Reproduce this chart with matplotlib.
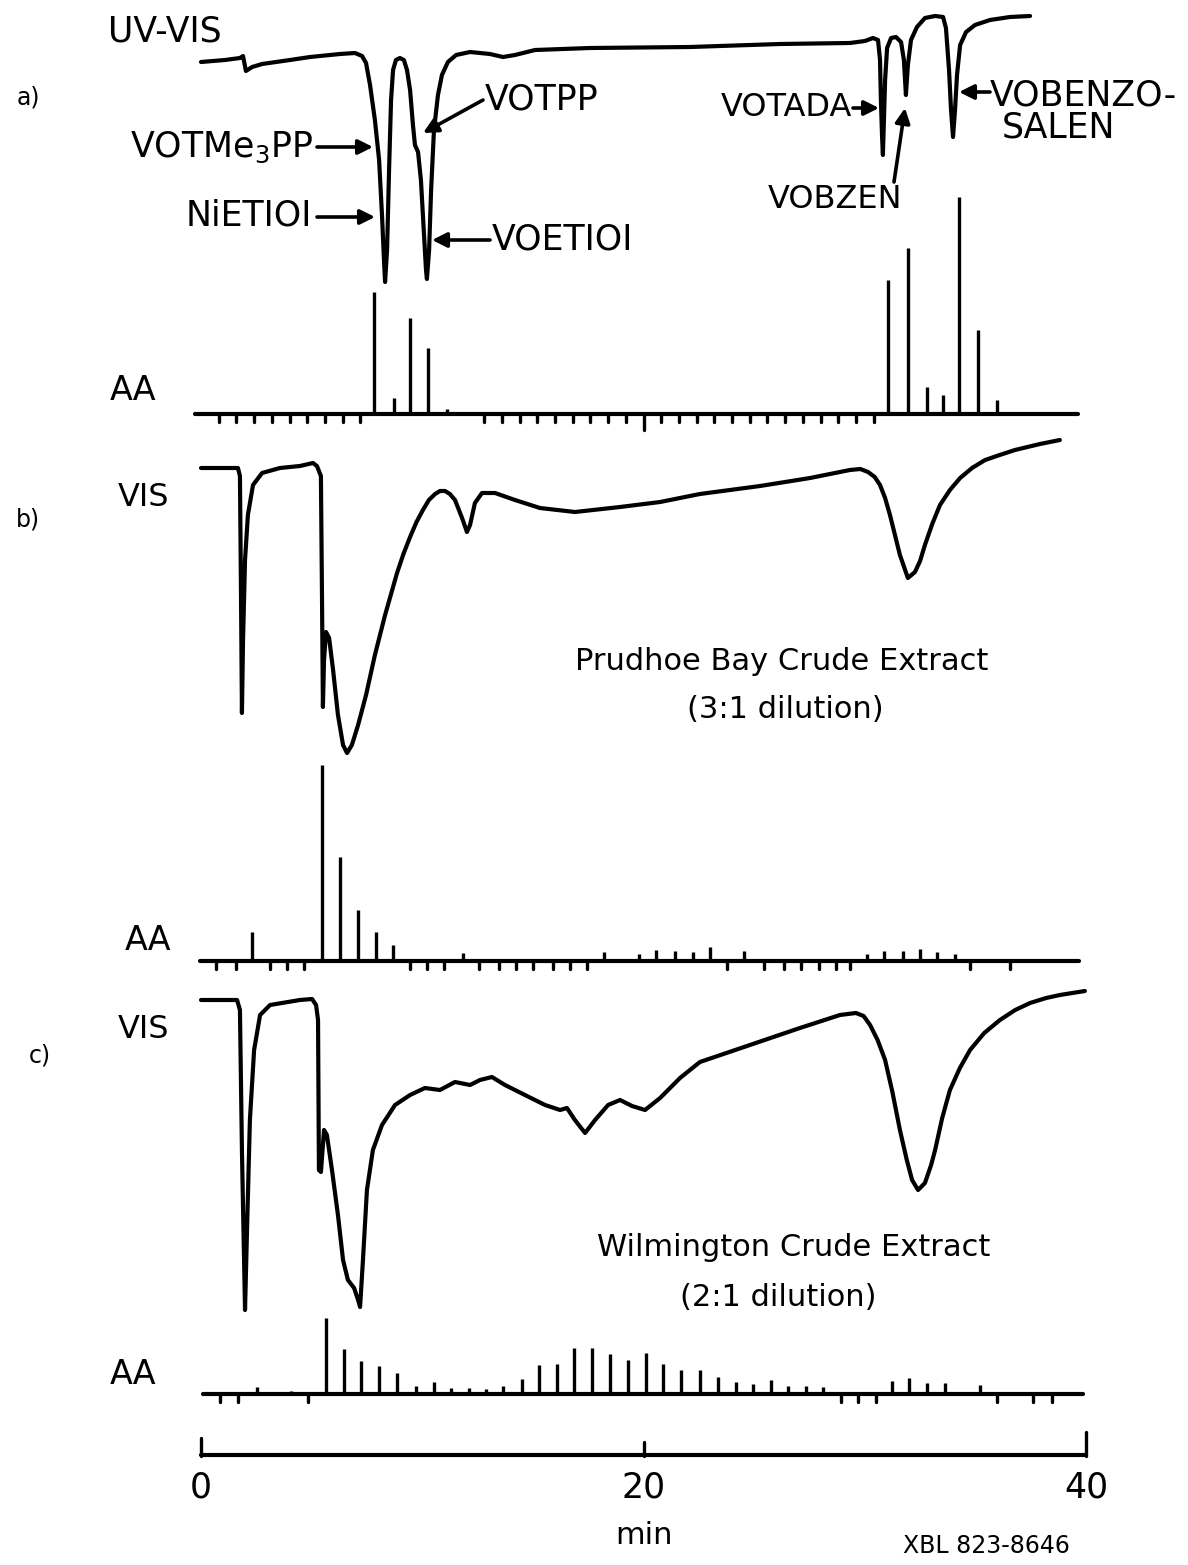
import matplotlib
matplotlib.use("Agg")
import matplotlib.pyplot as plt
import numpy as np

plt.rcParams['font.family'] = ['DejaVu Sans']

# ---------------- data (time in min, detector deflection in arbitrary units) -------------
# a) UV-VIS trace
a_vis_t = [0.0, 1.08, 1.76, 1.90, 2.03, 2.31, 2.76, 4.02, 4.93, 6.28, 6.96, 7.28, 7.46, 7.64,
           7.86, 8.05, 8.18, 8.27, 8.32, 8.41, 8.50, 8.59, 8.68, 8.81, 8.99, 9.17, 9.31, 9.45,
           9.58, 9.67, 9.81, 9.94, 10.08, 10.17, 10.21, 10.31, 10.40, 10.53, 10.71, 10.89,
           11.16, 11.53, 12.16, 13.06, 13.65, 14.19, 15.10, 17.58, 22.10, 26.17, 29.33, 30.01,
           30.37, 30.60, 30.69, 30.73, 30.78, 30.82, 30.92, 31.01, 31.19, 31.41, 31.64, 31.77,
           31.86, 31.95, 32.09, 32.36, 32.72, 33.18, 33.54, 33.67, 33.81, 33.90, 33.99, 34.08,
           34.17, 34.31, 34.58, 34.98, 35.66, 36.56, 37.47]
a_vis_d = [0, 2, 4, 6, -9, -5, -2, 2, 5, 8, 9, 6, -1, -23,
           -58, -98, -153, -198, -220, -188, -108, -38, -8, 2, 4, 2, -8, -28,
           -63, -83, -90, -118, -173, -208, -217, -188, -128, -68, -33, -13,
           0, 7, 10, 8, 5, 7, 12, 14, 15, 18, 19, 21,
           24, 22, 2, -38, -73, -93, -18, 14, 24, 25, 20, 2,
           -33, -3, 22, 35, 44, 46, 45, 34, -8, -48, -75, -48,
           -13, 17, 30, 37, 42, 45, 46]

# a) AA peaks
a_aa_t = [7.82, 8.72, 9.45, 10.26, 11.12, 31.05, 31.95, 32.81, 33.54, 34.26, 35.12, 35.98]
a_aa_h = [122, 16, 96, 66, 5, 134, 166, 27, 19, 217, 84, 14]
a_marks = [0.8, 1.6, 2.4, 3.2, 4.0, 4.8, 5.6, 6.4, 7.2, 12.8, 13.6, 14.4, 15.2, 16.0, 16.8,
           17.6, 18.4, 19.2, 20.0, 20.8, 21.6, 22.4, 23.2, 24.0, 24.8, 25.6, 26.4, 27.2,
           28.0, 28.8, 29.6, 30.4]

# b) VIS trace (Prudhoe Bay)
b_vis_t = [0.0, 1.67, 1.76, 1.81, 1.85, 1.90, 1.99, 2.12, 2.35, 2.76, 3.57, 4.47, 5.06, 5.24,
           5.42, 5.47, 5.51, 5.56, 5.65, 5.79, 5.97, 6.19, 6.42, 6.60, 6.82, 7.10, 7.46, 7.86,
           8.32, 8.86, 9.15, 9.45, 9.74, 10.03, 10.30, 10.58, 10.80, 11.03, 11.25, 11.48, 11.80,
           12.02, 12.16, 12.38, 12.70, 13.29, 14.19, 15.32, 16.90, 18.94, 20.75, 22.55, 25.27,
           27.53, 29.33, 29.80, 30.15, 30.45, 30.69, 30.92, 31.14, 31.59, 31.95, 32.27, 32.50,
           32.72, 33.05, 33.40, 33.85, 34.31, 34.85, 35.44, 36.10, 36.79, 37.92, 38.82]
b_vis_d = [0, 0, -8, -132, -245, -172, -92, -47, -17, -5, 0, 2, 5, 2,
           -8, -132, -239, -192, -164, -170, -202, -247, -277, -285, -277, -257, -227, -187,
           -147, -105, -86, -69, -54, -42, -32, -26, -23, -23, -26, -32, -50,
           -64, -57, -35, -25, -25, -32, -40, -44, -39, -34, -26, -18,
           -10, -2, -1, -4, -9, -17, -30, -47, -87, -110, -104, -93,
           -77, -56, -37, -22, -10, 0, 8, 13, 18, 24, 28]

# b) AA peaks
b_aa_t = [2.31, 5.47, 6.28, 7.10, 7.91, 8.68, 11.84, 18.21, 19.80, 20.56, 21.42, 22.24, 23.01,
          24.54, 30.10, 30.87, 31.73, 32.50, 33.27, 34.08]
b_aa_h = [29, 196, 104, 51, 29, 16, 8, 9, 7, 11, 10, 9, 14, 10, 7, 10, 10, 12, 9, 7]
b_marks = [0.68, 1.58, 3.12, 3.89, 4.66, 9.45, 10.21, 10.98, 12.56, 13.47, 14.24, 15.01, 15.91,
           16.68, 17.45, 23.77, 25.45, 26.35, 27.12, 27.93, 28.70, 29.33, 34.76, 36.56]

# c) VIS trace (Wilmington)
c_vis_t = [0.0, 1.63, 1.76, 1.85, 1.99, 2.08, 2.21, 2.40, 2.67, 3.12, 4.47, 5.02, 5.20, 5.29,
           5.33, 5.42, 5.56, 5.69, 5.92, 6.19, 6.42, 6.64, 6.92, 7.10, 7.19, 7.32, 7.50, 7.77,
           8.18, 8.77, 9.45, 10.12, 10.80, 11.48, 12.16, 12.61, 13.15, 13.74, 14.64, 15.55,
           16.23, 16.54, 16.90, 17.36, 17.81, 18.40, 18.94, 19.48, 20.07, 20.75, 21.65, 22.55,
           24.81, 27.07, 28.88, 29.60, 29.95, 30.24, 30.58, 30.92, 31.25, 31.59, 31.90, 32.14,
           32.41, 32.72, 33.00, 33.18, 33.50, 33.85, 34.30, 34.76, 35.40, 36.11, 36.80, 37.47,
           38.20, 38.82, 39.95]
c_vis_d = [0, 0, -10, -150, -310, -230, -120, -50, -15, -5, 0, 1, -5, -20,
           -170, -172, -130, -135, -170, -215, -260, -280, -288, -300, -307, -260, -190, -150,
           -125, -105, -95, -88, -90, -82, -85, -80, -77, -85, -95, -105,
           -110, -108, -120, -133, -120, -105, -100, -106, -110, -98, -78, -62,
           -45, -28, -15, -13, -16, -25, -40, -60, -92, -130, -160, -180,
           -190, -183, -165, -150, -118, -90, -68, -50, -33, -20, -10, -3,
           2, 5, 9]

# c) AA peaks
c_aa_t = [2.53, 4.07, 5.65, 6.46, 7.23, 8.05, 8.86, 9.72, 10.53, 11.30, 12.11, 12.88, 13.65,
          14.51, 15.28, 16.09, 16.86, 17.67, 18.49, 19.30, 20.11, 20.88, 21.69, 22.55, 23.37,
          24.18, 24.95, 25.76, 26.53, 27.34, 28.11, 31.23, 32.00, 32.81, 33.63, 35.21]
c_aa_h = [7, 3, 76, 45, 33, 28, 21, 8, 12, 6, 6, 5, 8, 15, 29, 30, 46, 46, 40, 34, 41, 30, 24,
          24, 17, 12, 10, 14, 8, 8, 7, 13, 16, 11, 11, 9]
c_marks = [0.86, 1.67, 4.84, 28.93, 29.69, 30.51, 35.98, 37.60, 38.46]

scale_ticks = [0, 20, 40]
scale_labels = ["0", "20", "40"]

# ---------------- layout ----------------
W, H = 1188, 1565
PX_PER_MIN = 22.125
X0 = 201.0  # pixel column of t = 0

fig = plt.figure(figsize=(W / 100, H / 100), dpi=100)
fig.patch.set_facecolor('white')
ax = fig.add_axes([0, 0, 1, 1])
ax.set_xlim(-X0 / PX_PER_MIN, (W - X0) / PX_PER_MIN)
ax.set_ylim(H, 0)
ax.axis('off')

LW_TRACE = 3.0
LW_AA = 2.4
kw = dict(color='black', solid_joinstyle='round', solid_capstyle='round')

def trace(t, d, base):
    ax.plot(t, base - np.asarray(d, float), lw=LW_TRACE, **kw)

def aa(t, h, base, marks, t0, t1, long_marks=()):
    ax.plot([t0, t1], [base, base], lw=3.0, **kw)
    ax.vlines(t, base, base - np.asarray(h, float), color='black', lw=LW_AA)
    for m in marks:
        ln = 16 if m in long_marks else 8
        ax.plot([m, m], [base, base + ln], lw=2.4, **kw)

# panel a
trace(a_vis_t, a_vis_d, 62)
aa(a_aa_t, a_aa_h, 414, a_marks, -0.27, 39.64, long_marks=(20.0,))
# panel b
trace(b_vis_t, b_vis_d, 468)
aa(b_aa_t, b_aa_h, 961, b_marks, -0.05, 39.7)
# panel c
trace(c_vis_t, c_vis_d, 1000)
aa(c_aa_t, c_aa_h, 1394, c_marks, 0.09, 39.86)

# time scale bar
ax.plot([0, 40], [1455, 1455], lw=3.0, **kw)
for tk, top in zip(scale_ticks, [1438, 1442, 1432]):
    ax.plot([tk, tk], [1456, top], lw=2.4, **kw)
for tk, lab in zip(scale_ticks, scale_labels):
    ax.text(tk, 1487, lab, ha='center', va='center', fontsize=25)
ax.text(20, 1535, "min", ha='center', va='center', fontsize=22)
ax.text(35.5, 1546, "XBL 823-8646", ha='center', va='center', fontsize=17)

def tx(px):
    return (px - X0) / PX_PER_MIN

# labels
ax.text(tx(108), 31, "UV-VIS", ha='left', va='center', fontsize=25)
ax.text(tx(28), 97, "a)", ha='center', va='center', fontsize=17)
ax.text(tx(110), 390, "AA", ha='left', va='center', fontsize=24)
ax.text(tx(28), 520, "b)", ha='center', va='center', fontsize=17)
ax.text(tx(118), 497, "VIS", ha='left', va='center', fontsize=23)
ax.text(tx(125), 940, "AA", ha='left', va='center', fontsize=24)
ax.text(tx(40), 1055, "c)", ha='center', va='center', fontsize=17)
ax.text(tx(118), 1030, "VIS", ha='left', va='center', fontsize=23)
ax.text(tx(110), 1375, "AA", ha='left', va='center', fontsize=24)

ax.text(tx(782), 661, "Prudhoe Bay Crude Extract", ha='center', va='center', fontsize=22)
ax.text(tx(785), 710, "(3:1 dilution)", ha='center', va='center', fontsize=22)
ax.text(tx(794), 1248, "Wilmington Crude Extract", ha='center', va='center', fontsize=22)
ax.text(tx(778), 1297, "(2:1 dilution)", ha='center', va='center', fontsize=22)

# compound annotations
ap = dict(arrowstyle='-|>', color='black', lw=2.6, mutation_scale=22, shrinkA=0, shrinkB=0)
ax.text(tx(313), 147, "VOTMe$_3$PP", ha='right', va='center', fontsize=25)
ax.annotate("", xy=(tx(373), 147), xytext=(tx(317), 147), arrowprops=ap)
ax.text(tx(312), 215, "NiETIOI", ha='right', va='center', fontsize=25)
ax.annotate("", xy=(tx(375), 217), xytext=(tx(317), 217), arrowprops=ap)
ax.text(tx(485), 100, "VOTPP", ha='left', va='center', fontsize=25)
ax.annotate("", xy=(tx(423), 133), xytext=(tx(483), 100), arrowprops=ap)
ax.text(tx(492), 240, "VOETIOI", ha='left', va='center', fontsize=25)
ax.annotate("", xy=(tx(432), 240), xytext=(tx(490), 240), arrowprops=ap)
ax.text(tx(852), 108, "VOTADA", ha='right', va='center', fontsize=23)
ax.annotate("", xy=(tx(879), 108), xytext=(tx(853), 108), arrowprops=ap)
ax.text(tx(835), 200, "VOBZEN", ha='center', va='center', fontsize=23)
ax.annotate("", xy=(tx(905), 108), xytext=(tx(894), 182), arrowprops=ap)
ax.text(tx(990), 95, "VOBENZO-", ha='left', va='center', fontsize=25)
ax.text(tx(1002), 128, "SALEN", ha='left', va='center', fontsize=25)
ax.annotate("", xy=(tx(959), 92), xytext=(tx(990), 92), arrowprops=ap)

fig.savefig("out.png", dpi=100, facecolor='white')
